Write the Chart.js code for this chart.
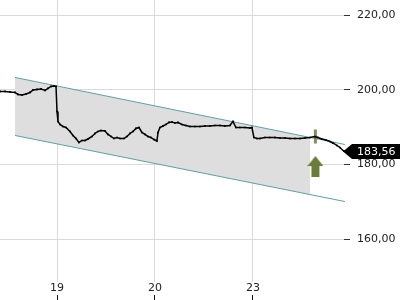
<!DOCTYPE html>
<html>
<head>
<meta charset="utf-8">
<script src="https://cdn.jsdelivr.net/npm/chart.js@4/dist/chart.umd.min.js"></script>
<style>
    html, body { margin: 0; padding: 0; background: #fff; }
    #wrap { width: 400px; height: 300px; }
</style>
</head>
<body>
<div id="wrap"><canvas id="priceChart"></canvas></div>
<script>
// x values are trading-day positions: 1 = 19, 2 = 20, 3 = 23
const xTickValues = [1, 2, 3];
const xTickLabels = ['19', '20', '23'];
const yTickValues = [160, 180, 200, 220];

const priceX = [
    0.418, 0.469, 0.520, 0.571, 0.602, 0.643, 0.684, 0.724, 0.755, 0.796, 0.837, 0.878, 0.908, 0.939, 0.969, 0.990,
    1.000, 1.010, 1.031, 1.061, 1.092, 1.133, 1.163, 1.194, 1.224, 1.255, 1.286, 1.316, 1.357, 1.388, 1.418, 1.449,
    1.490, 1.520, 1.551, 1.582, 1.612, 1.643, 1.684, 1.714, 1.745, 1.776, 1.806, 1.837, 1.867, 1.898, 1.929, 1.959,
    1.990, 2.020, 2.031, 2.051, 2.082, 2.112, 2.143, 2.173, 2.204, 2.235, 2.276, 2.316, 2.357, 2.408, 2.459, 2.510,
    2.561, 2.612, 2.663, 2.714, 2.765, 2.796, 2.827, 2.867, 2.918, 2.969, 2.990, 3.010, 3.041, 3.071, 3.122, 3.173,
    3.224, 3.276, 3.327, 3.378, 3.429, 3.480, 3.531, 3.582, 3.633, 3.663, 3.704, 3.745, 3.786, 3.816, 3.857, 3.888,
    3.929
];
const priceY = [
    199.58, 199.58, 199.45, 199.31, 198.78, 198.64, 198.91, 199.31, 199.98, 200.12, 200.25, 199.85, 200.39, 200.92, 201.06, 200.92,
    194.22, 191.53, 190.73, 190.19, 189.92, 188.85, 187.78, 186.97, 185.90, 186.44, 186.44, 186.84, 187.51, 188.32, 188.85, 189.12,
    188.99, 188.05, 187.51, 186.97, 187.24, 186.97, 186.97, 187.51, 188.32, 188.85, 189.66, 189.92, 188.58, 188.05, 187.51, 187.24,
    186.70, 186.30, 188.58, 189.92, 190.33, 190.73, 191.27, 191.40, 191.13, 191.27, 190.73, 190.46, 190.19, 190.19, 190.19, 190.33,
    190.33, 190.46, 190.46, 190.33, 190.46, 191.53, 189.92, 189.92, 189.92, 189.79, 189.92, 187.24, 186.97, 186.97, 187.24, 187.24,
    187.24, 187.11, 187.11, 186.97, 186.97, 186.97, 187.11, 187.24, 187.51, 187.24, 186.84, 186.57, 186.17, 185.77, 185.10, 184.56,
    183.56
];

// trend channel
const channelX = [0.571, 3.939];
const channelUpper = [203.34, 185.36];
const channelLower = [187.78, 170.07];
const shadeX = [0.571, 3.582];
const shadeUpper = [203.34, 187.27];
const shadeLower = [187.78, 171.95];

// signal markers
const signalX = [3.638];
const signalBarY = [187.5];
const arrowY = [179.45];

const FONT = 'DejaVu Sans';
const GRID = '#dadada';
const TEAL = '#5d9fa6';
const OLIVE = '#6a7d38';

function points(xs, ys) {
    return xs.map((x, i) => ({ x: x, y: ys[i] }));
}

function formatPrice(v) {
    return v.toFixed(2).replace('.', ',');
}

function makeArrow() {
    const c = document.createElement('canvas');
    c.width = 16;
    c.height = 21;
    const g = c.getContext('2d');
    g.fillStyle = OLIVE;
    g.beginPath();
    g.moveTo(8, 0);
    g.lineTo(16, 10);
    g.lineTo(12, 10);
    g.lineTo(12, 21);
    g.lineTo(4, 21);
    g.lineTo(4, 10);
    g.lineTo(0, 10);
    g.closePath();
    g.fill();
    return c;
}

// no edge padding for labels, the plot runs to the canvas edges
function noPadding(scale) {
    scale.paddingTop = 0;
    scale.paddingBottom = 0;
    scale.paddingLeft = 0;
    scale.paddingRight = 0;
}

const lastPriceLabel = {
    id: 'lastPriceLabel',
    afterDraw(chart) {
        const ctx = chart.ctx;
        const last = priceY[priceY.length - 1];
        const y = Math.round(chart.scales.y.getPixelForValue(last)) + 0.5;
        const x = chart.chartArea.right - 1;
        ctx.save();
        ctx.fillStyle = '#000';
        ctx.beginPath();
        ctx.moveTo(x, y);
        ctx.lineTo(x + 9, y - 7.5);
        ctx.lineTo(chart.width, y - 7.5);
        ctx.lineTo(chart.width, y + 7.5);
        ctx.lineTo(x + 9, y + 7.5);
        ctx.closePath();
        ctx.fill();
        ctx.fillStyle = '#fff';
        ctx.font = '11px "' + FONT + '"';
        ctx.textBaseline = 'middle';
        ctx.fillText(formatPrice(last), x + 14, y + 0.5);
        ctx.restore();
    }
};

const setXTicks = scale => { scale.ticks = xTickValues.map(v => ({ value: v })); };

new Chart(document.getElementById('priceChart'), {
    type: 'line',
    data: {
        datasets: [
            {
                data: points(shadeX, shadeUpper),
                borderWidth: 0,
                pointRadius: 0,
                backgroundColor: '#dedede',
                fill: '+1',
                order: 5
            },
            {
                data: points(shadeX, shadeLower),
                borderWidth: 0,
                pointRadius: 0,
                fill: false,
                order: 5
            },
            {
                data: points(channelX, channelUpper),
                borderColor: TEAL,
                borderWidth: 1,
                pointRadius: 0,
                fill: false,
                clip: 6,
                order: 3
            },
            {
                data: points(channelX, channelLower),
                borderColor: TEAL,
                borderWidth: 1,
                pointRadius: 0,
                fill: false,
                clip: 6,
                order: 3
            },
            {
                data: points(priceX, priceY),
                borderColor: '#000',
                borderWidth: 1.5,
                pointStyle: 'rect',
                pointRadius: 1.2,
                pointBackgroundColor: '#000',
                pointBorderWidth: 0,
                fill: false,
                clip: 6,
                order: 1
            },
            {
                data: points(signalX, signalBarY),
                showLine: false,
                pointStyle: 'line',
                rotation: 90,
                pointRadius: 7,
                pointBorderWidth: 3,
                pointBorderColor: 'rgba(106,125,56,0.85)',
                order: 2
            },
            {
                data: points(signalX, arrowY),
                showLine: false,
                pointStyle: makeArrow(),
                order: 0
            }
        ]
    },
    options: {
        responsive: true,
        maintainAspectRatio: false,
        animation: false,
        layout: { padding: 0, autoPadding: false },
        plugins: {
            legend: { display: false },
            tooltip: { enabled: false }
        },
        scales: {
            x: {
                type: 'linear',
                position: 'bottom',
                min: 0.418,
                max: 3.93,
                afterBuildTicks: setXTicks,
                afterFit: noPadding,
                ticks: {
                    callback: v => xTickLabels[xTickValues.indexOf(v)],
                    font: { family: FONT, size: 11, lineHeight: 1 },
                    color: '#222',
                    padding: 1,
                    maxRotation: 0,
                    autoSkip: false
                },
                grid: { color: GRID, drawTicks: false },
                border: { display: false }
            },
            x2: {
                type: 'linear',
                position: 'bottom',
                weight: 1,
                min: 0.418,
                max: 3.93,
                afterBuildTicks: setXTicks,
                afterFit: noPadding,
                ticks: { display: false },
                grid: { drawOnChartArea: false, tickLength: 5, tickColor: '#111' },
                border: { display: false }
            },
            y: {
                position: 'right',
                min: 148.5,
                max: 224.1,
                afterBuildTicks: scale => { scale.ticks = yTickValues.map(v => ({ value: v })); },
                afterFit: scale => { scale.width = 56; noPadding(scale); },
                ticks: {
                    callback: v => formatPrice(v),
                    font: { family: FONT, size: 11 },
                    color: '#222',
                    padding: 7
                },
                grid: { color: GRID, tickLength: 6, tickColor: '#333' },
                border: { display: false }
            }
        }
    },
    plugins: [lastPriceLabel]
});
</script>
</body>
</html>
